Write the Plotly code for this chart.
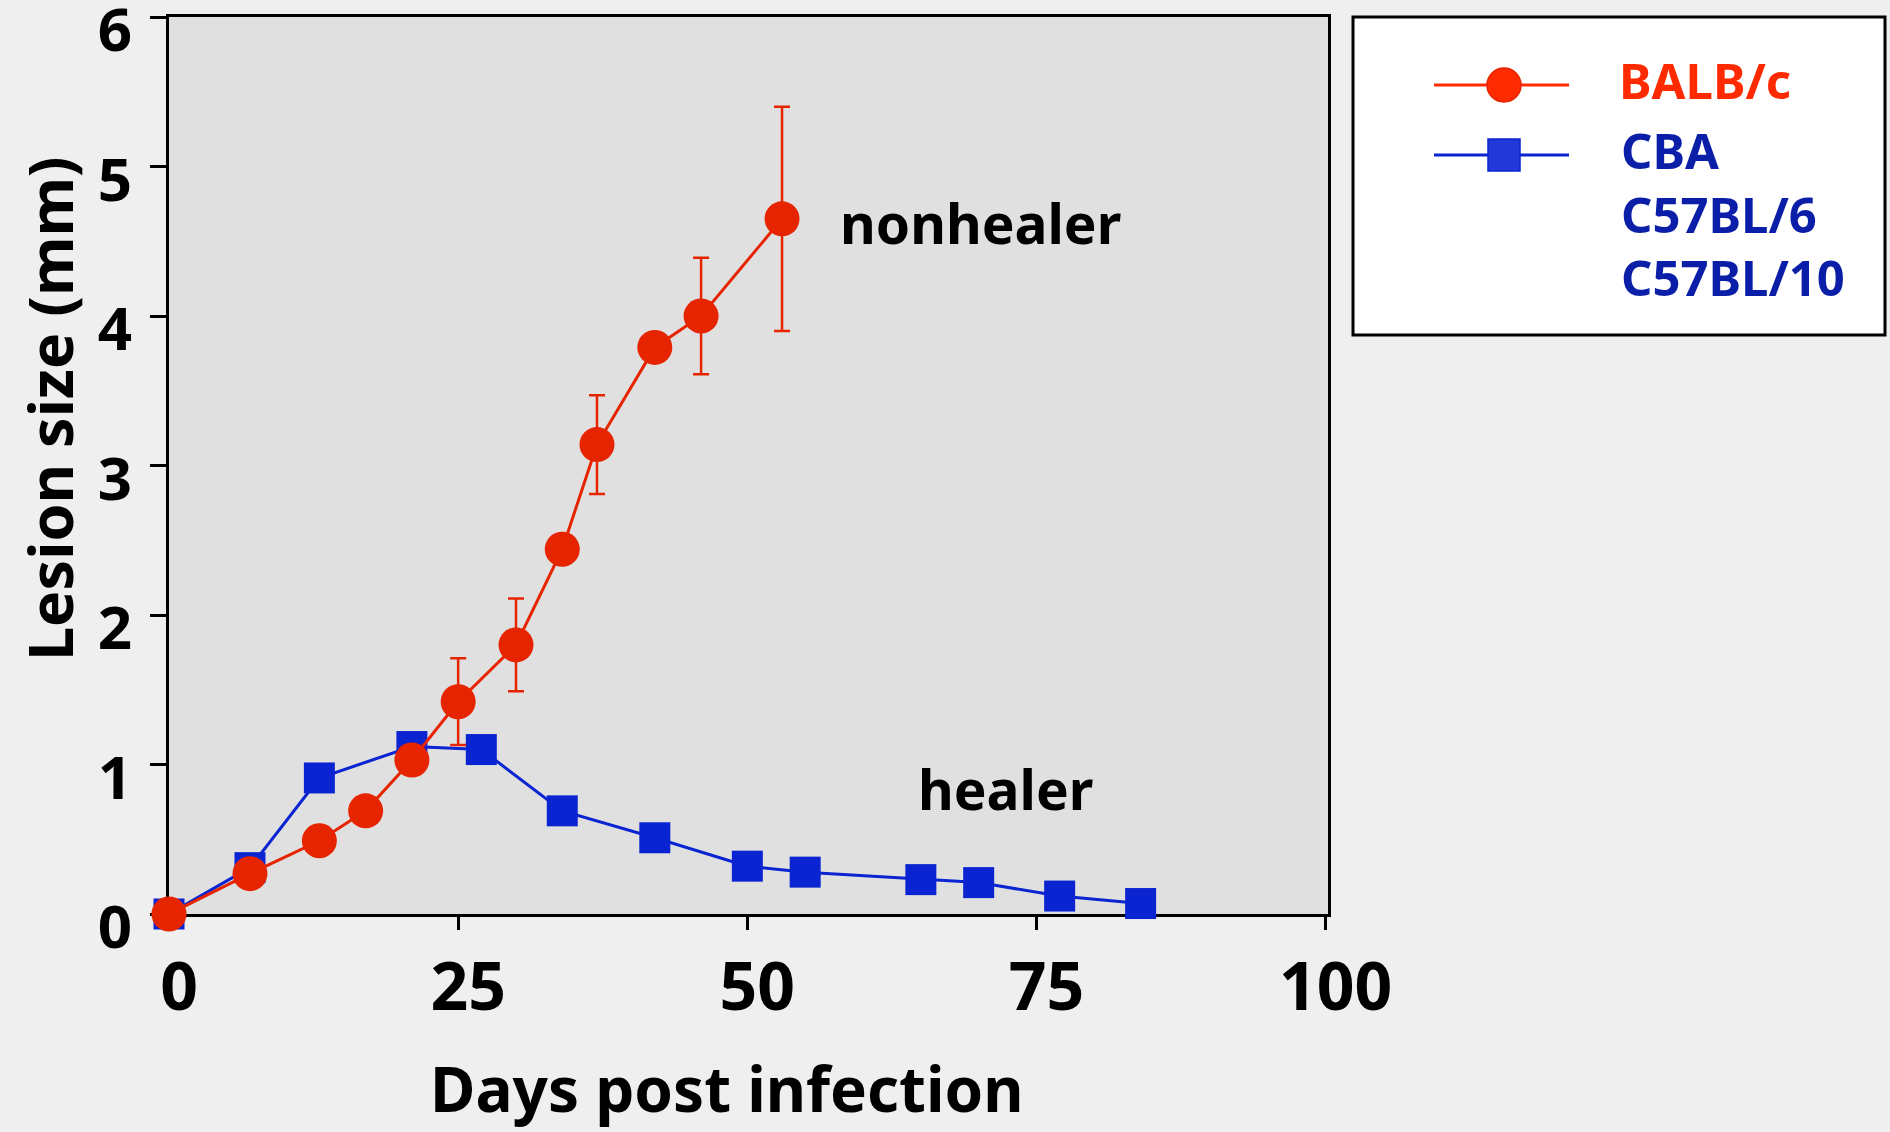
import plotly.graph_objects as go

# ---------------- data ----------------
balb_days = [0, 7, 13, 17, 21, 25, 30, 34, 37, 42, 46, 53]
balb_size = [0.0, 0.27, 0.49, 0.69, 1.03, 1.42, 1.80, 2.44, 3.14, 3.79, 4.00, 4.65]
balb_err = [0, 0, 0, 0, 0, 0.29, 0.31, 0, 0.33, 0, 0.39, 0.75]

healer_days = [0, 7, 13, 21, 27, 34, 42, 50, 55, 65, 70, 77, 84]
healer_size = [0.0, 0.31, 0.91, 1.12, 1.10, 0.69, 0.51, 0.32, 0.28, 0.23, 0.21, 0.12, 0.07]

x_ticks = [0, 25, 50, 75, 100]
y_ticks = [0, 1, 2, 3, 4, 5, 6]

RED = "#E62400"
BLUE = "#0A24D2"
FONT = "Noto Sans"

# plot area in pixels
W, H = 1890, 1132
L, R, T, B = 169, 1328, 17, 914


def px(x):
    return (x - L) / (R - L)


def py(y):
    return (B - y) / (B - T)


fig = go.Figure()

fig.add_trace(go.Scatter(
    x=healer_days, y=healer_size, mode="lines+markers",
    line=dict(color=BLUE, width=3),
    marker=dict(symbol="square", size=31, color=BLUE, line=dict(width=0)),
    cliponaxis=False, showlegend=False))

fig.add_trace(go.Scatter(
    x=balb_days, y=balb_size, mode="lines+markers",
    line=dict(color=RED, width=3),
    marker=dict(symbol="circle", size=35, color=RED, line=dict(width=0)),
    error_y=dict(type="data", array=balb_err, visible=True, color=RED,
                 thickness=2.5, width=8),
    cliponaxis=False, showlegend=False))

shapes = []
annotations = []

# legend box
shapes.append(dict(type="rect", xref="paper", yref="paper",
                   x0=px(1353), x1=px(1885), y0=py(17), y1=py(335),
                   fillcolor="white", line=dict(color="black", width=3)))
# red legend entry
shapes.append(dict(type="line", xref="paper", yref="paper",
                   x0=px(1434), x1=px(1569), y0=py(85), y1=py(85),
                   line=dict(color="#FF2A00", width=3)))
shapes.append(dict(type="circle", xref="paper", yref="paper",
                   x0=px(1504 - 17), x1=px(1504 + 17), y0=py(85 - 17), y1=py(85 + 17),
                   fillcolor="#FF2A00", line=dict(color="#E62400", width=1.5)))
# blue legend entry
shapes.append(dict(type="line", xref="paper", yref="paper",
                   x0=px(1434), x1=px(1569), y0=py(155), y1=py(155),
                   line=dict(color="#0A24D2", width=3)))
shapes.append(dict(type="rect", xref="paper", yref="paper",
                   x0=px(1504 - 16), x1=px(1504 + 16), y0=py(155 - 16), y1=py(155 + 16),
                   fillcolor="#2238D8", line=dict(color="#0A24D2", width=1.5)))

legend_font = 49
annotations.append(dict(text="<b>BALB/c</b>", xref="paper", yref="paper",
                        x=px(1617), y=py(80), xanchor="left", yanchor="middle",
                        showarrow=False, font=dict(family=FONT, size=legend_font, color="#FF2A00")))
annotations.append(dict(text="<b>CBA<br>C57BL/6<br>C57BL/10</b>", xref="paper", yref="paper",
                        x=px(1619), y=py(213), xanchor="left", yanchor="middle", align="left",
                        showarrow=False, font=dict(family=FONT, size=legend_font, color="#0A1EA8")))

# in-plot labels
annotations.append(dict(text="<b>nonhealer</b>", xref="paper", yref="paper",
                        x=px(838), y=py(222), xanchor="left", yanchor="middle",
                        showarrow=False, font=dict(family=FONT, size=55, color="black")))
annotations.append(dict(text="<b>healer</b>", xref="paper", yref="paper",
                        x=px(1005), y=py(788), xanchor="center", yanchor="middle",
                        showarrow=False, font=dict(family=FONT, size=55, color="black")))

# axis titles
annotations.append(dict(text="<b>Days post infection</b>", xref="paper", yref="paper",
                        x=px(727), y=py(1088), xanchor="center", yanchor="middle",
                        showarrow=False, font=dict(family=FONT, size=62, color="black")))
annotations.append(dict(text="<b>Lesion size (mm)</b>", xref="paper", yref="paper",
                        x=px(50), y=py(409), xanchor="center", yanchor="middle",
                        textangle=-90,
                        showarrow=False, font=dict(family=FONT, size=61, color="black")))

fig.update_layout(
    width=W, height=H,
    margin=dict(l=L, r=W - R, t=T, b=H - B, pad=0, autoexpand=False),
    paper_bgcolor="#EFEFEF",
    plot_bgcolor="#E0E0E0",
    shapes=shapes,
    annotations=annotations,
    font=dict(family=FONT, color="black"),
)

fig.update_xaxes(
    range=[0, 100.2], tickvals=x_ticks, ticktext=["<b>%d</b>" % v for v in x_ticks],
    ticks="outside", ticklen=13, tickwidth=3, tickcolor="black",
    showline=True, linecolor="black", linewidth=3, mirror=True,
    showgrid=False, zeroline=False, layer="below traces", automargin=False,
    tickfont=dict(family=FONT, size=66, color="black"),
    ticklabelstandoff=1, ticklabelshift=10, ticklabeloverflow="allow",
)
fig.update_yaxes(
    range=[0, 6], tickvals=y_ticks, ticktext=["<b>%d</b>" % v for v in y_ticks],
    ticks="outside", ticklen=16, tickwidth=3, tickcolor="black",
    showline=True, linecolor="black", linewidth=3, mirror=True,
    showgrid=False, zeroline=False, layer="below traces", automargin=False,
    tickfont=dict(family=FONT, size=60, color="black"),
    ticklabelstandoff=6, ticklabelshift=13, ticklabeloverflow="allow",
)

fig.write_html(
    "out.html",
    config={"displayModeBar": False},
    post_script="document.body.style.margin='0';document.body.style.overflow='hidden';"
                "document.documentElement.style.background='#EFEFEF';",
)
